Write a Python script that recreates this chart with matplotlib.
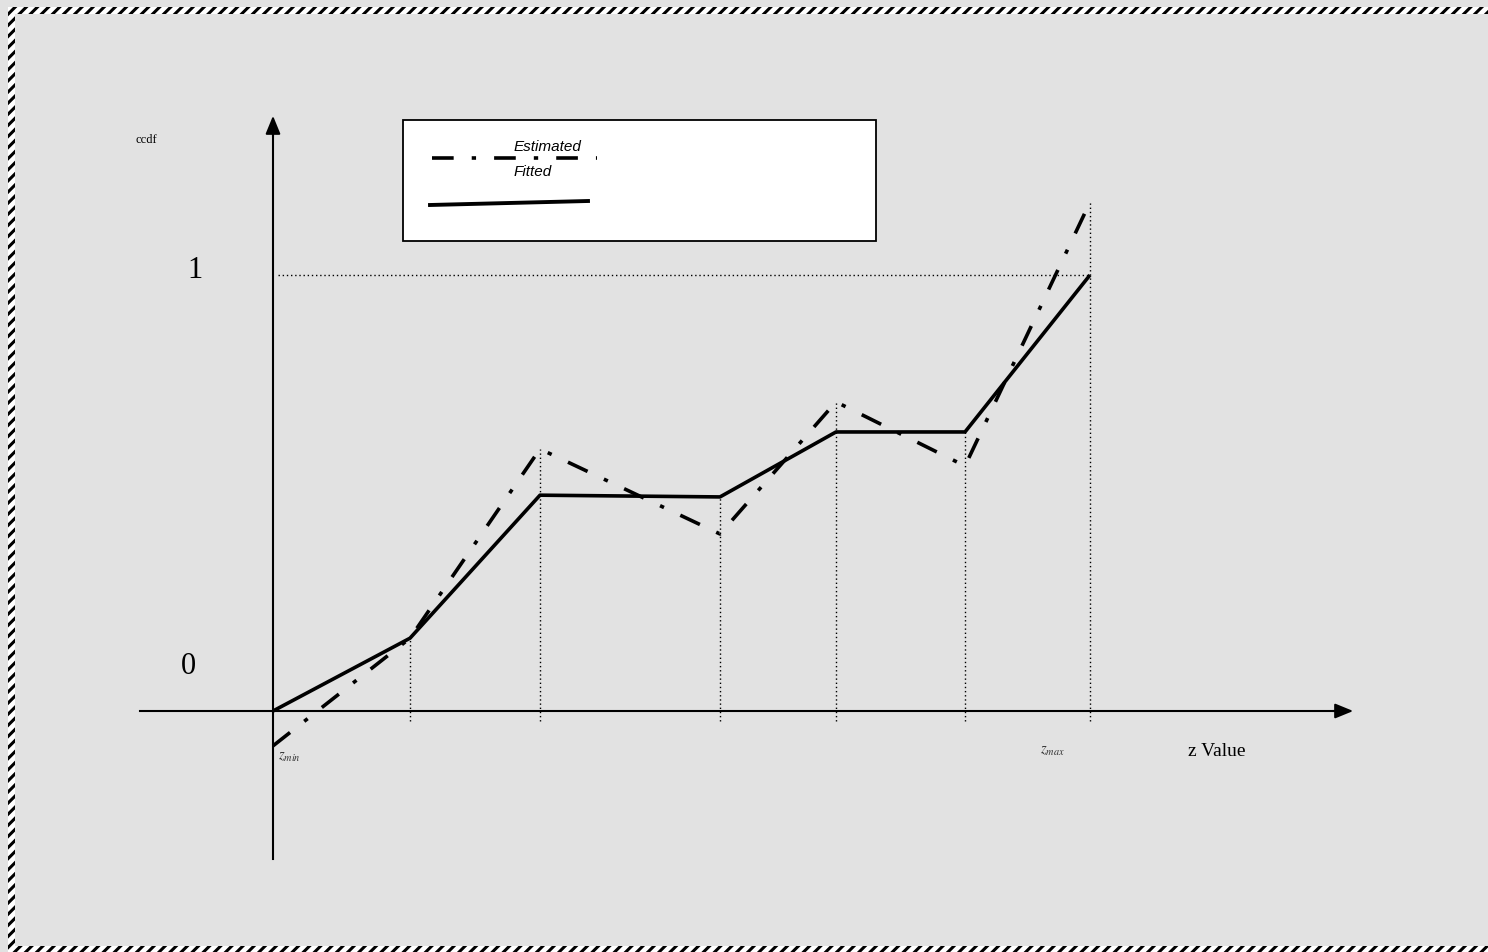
import matplotlib
matplotlib.use("Agg")
import matplotlib.pyplot as plt
from matplotlib.patches import Rectangle
import numpy as np

# Data (x positions in chart units along z axis, ccdf values)
z_points = [273, 410, 540, 720, 836, 965, 1090]
fitted = [0.0, 0.167, 0.495, 0.491, 0.640, 0.640, 1.0]
estimated = [-0.080, 0.167, 0.601, 0.406, 0.709, 0.562, 1.167]
y_ticks = [0, 1]
legend_labels = ["Estimated", "Fitted"]

plt.rcParams["hatch.linewidth"] = 2.2

W, H = 1488, 953
fig = plt.figure(figsize=(W / 100, H / 100), dpi=100)
fig.patch.set_facecolor("#e2e2e2")
ax = fig.add_axes([0, 0, 1, 1])
ax.set_facecolor("#e2e2e2")
y0_px, scale = 712, 436
ax.set_xlim(0, W)
ax.set_ylim((y0_px - H) / scale, y0_px / scale)
ax.axis("off")

def py(p):
    return (y0_px - p) / scale

# hatched border
for (x, y, w, h) in [(8, py(15), W, 7 / scale), (8, py(953), 7, (953 - 8) / scale),
                     (8, py(953), W, 6 / scale)]:
    ax.add_patch(Rectangle((x, y), w, h, facecolor="white", edgecolor="black",
                           hatch="///", linewidth=0, zorder=1))

# axes
ax.plot([140, 1340], [0, 0], color="black", lw=1.5, zorder=3)
ax.annotate("", xy=(1356, 0), xytext=(1330, 0),
            arrowprops=dict(arrowstyle="-|>,head_length=1.1,head_width=0.45", color="black", lw=1.5))
ax.plot([273, 273], [py(860), py(130)], color="black", lw=1.5, zorder=3)
ax.annotate("", xy=(273, py(114)), xytext=(273, py(140)),
            arrowprops=dict(arrowstyle="-|>,head_length=1.1,head_width=0.45", color="black", lw=1.5))

# dotted guide lines
ax.plot([278, z_points[-1]], [1, 1], color="black", lw=1.0, ls=(0, (1, 2)), zorder=2)
for x, f, e in zip(z_points[1:], fitted[1:], estimated[1:]):
    ax.plot([x, x], [py(722), max(f, e)], color="black", lw=1.0, ls=(0, (1, 2)), zorder=2)

# series
ax.plot(z_points, fitted, color="black", lw=2.6, zorder=4, solid_capstyle="butt")
ax.plot(z_points, estimated, color="black", lw=2.6, zorder=4,
        ls=(0, (6, 5, 1.2, 5)))

# labels
ax.text(135, py(140), "ccdf", family="Liberation Serif", fontsize=9, ha="left", va="center")
ax.text(195, py(270), str(y_ticks[1]), family="Liberation Serif", fontsize=22,
        ha="center", va="center")
ax.text(188, py(666), str(y_ticks[0]), family="Liberation Serif", fontsize=22,
        ha="center", va="center")
ax.text(278, py(757), r"$z_{min}$", fontsize=10.5, ha="left", va="center",
        math_fontfamily="stix", color="#333333")
ax.text(1040, py(751), r"$z_{max}$", fontsize=10.5, ha="left", va="center",
        math_fontfamily="stix", color="#333333")
ax.text(1188, py(751), "z Value", family="Liberation Serif", fontsize=14,
        ha="left", va="center")

# legend box
ax.add_patch(Rectangle((403, py(242)), 876 - 403, (242 - 121) / scale,
                       facecolor="white", edgecolor="black", lw=1.3, zorder=5))
ax.text(514, py(147), legend_labels[0], family="Liberation Sans", style="italic",
        fontsize=11, ha="left", va="center", zorder=6)
ax.plot([432, 597], [py(159), py(159)], color="black", lw=2.6, zorder=6,
        ls=(0, (6, 5, 1.2, 5)))
ax.text(514, py(172), legend_labels[1], family="Liberation Sans", style="italic",
        fontsize=11, ha="left", va="center", zorder=6)
ax.plot([430, 588], [py(206), py(202)], color="black", lw=2.8, zorder=6)

fig.savefig("out.png", dpi=100, facecolor=fig.get_facecolor())
